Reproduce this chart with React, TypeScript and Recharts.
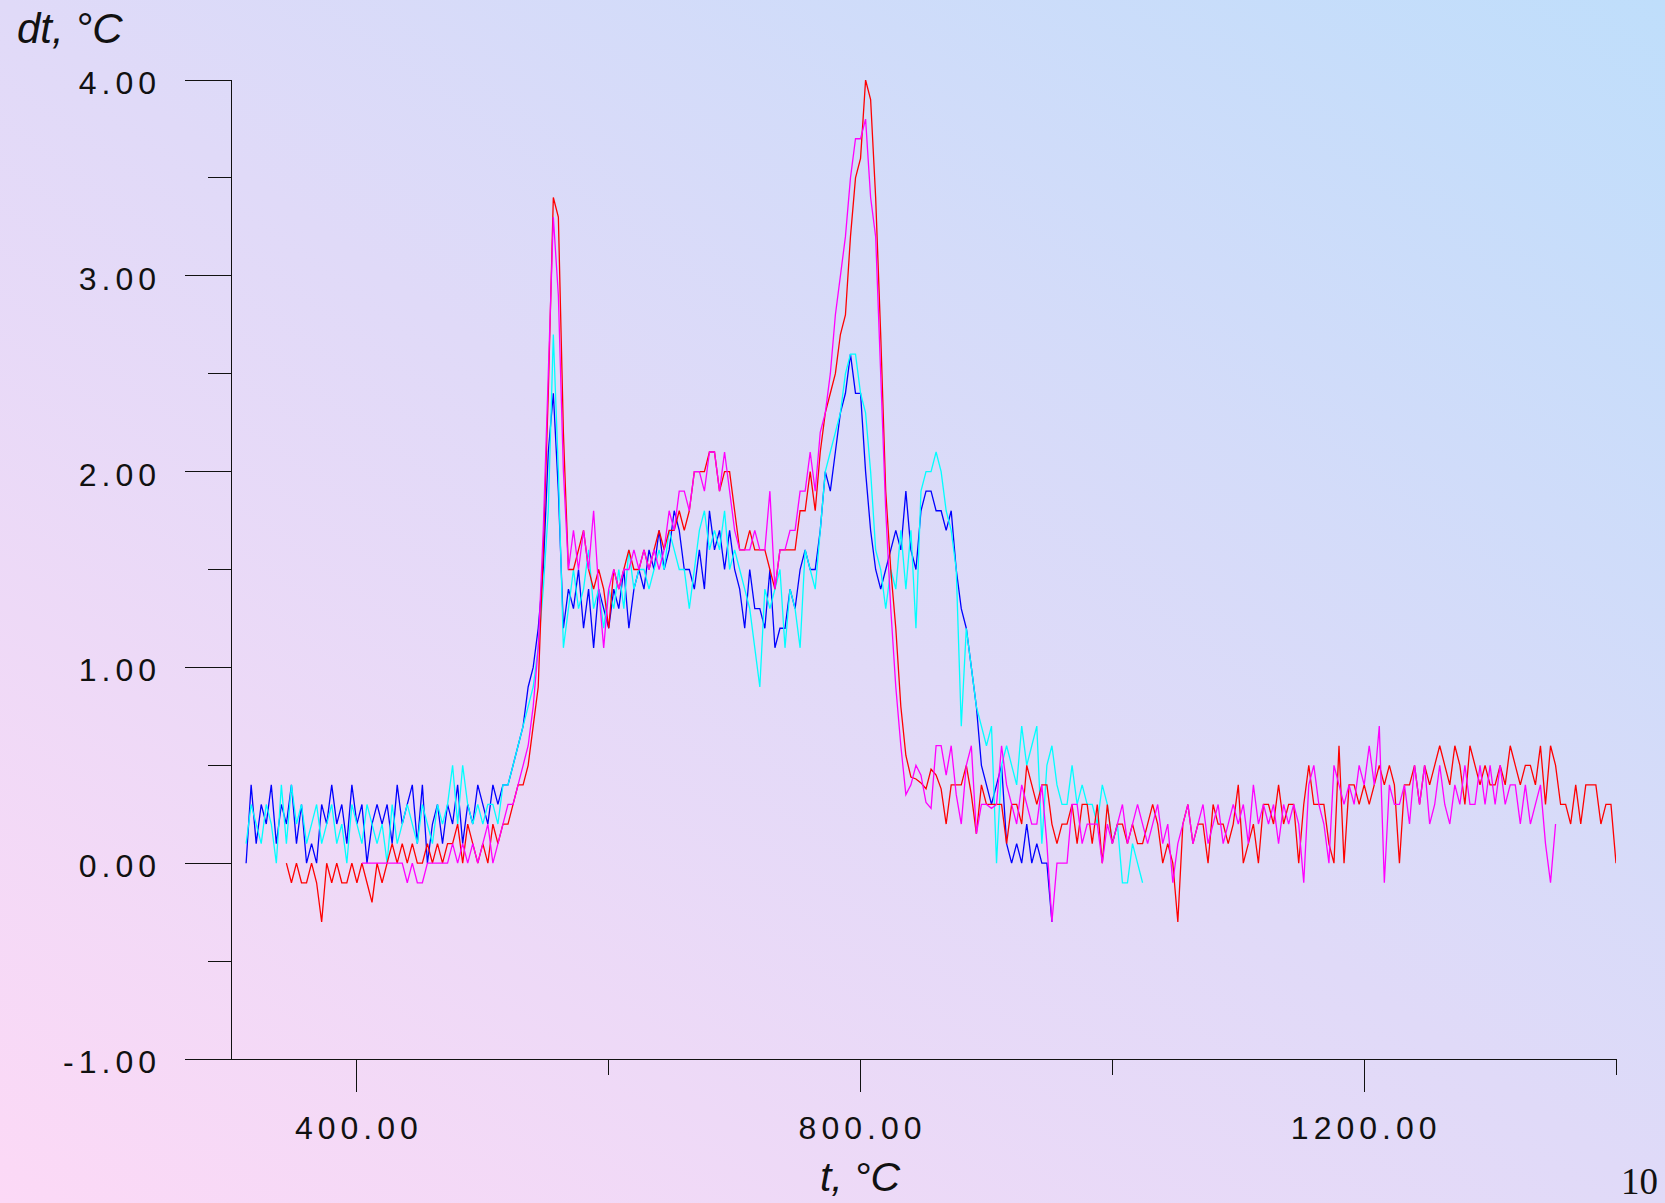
import { LineChart, Line, XAxis, YAxis } from 'recharts';

// readings on a 4 °C grid from 300 to 1400, null where a curve is not drawn
const _ = null;
const T_START = 300;
const T_STEP = 4;

const blue = [
  _, _, _, 0.0, 0.4, 0.1, 0.3, 0.2, 0.4, 0.1, // 300
  0.3, 0.2, 0.4, 0.1, 0.3, 0.0, 0.1, 0.0, 0.3, 0.2, // 340
  0.4, 0.2, 0.3, 0.1, 0.4, 0.2, 0.3, 0.0, 0.2, 0.3, // 380
  0.2, 0.3, 0.1, 0.4, 0.2, 0.3, 0.4, 0.1, 0.4, 0.0, // 420
  0.2, 0.3, 0.1, 0.3, 0.2, 0.4, 0.1, 0.3, 0.2, 0.4, // 460
  0.3, 0.2, 0.4, 0.3, 0.4, 0.4, 0.5, 0.6, 0.7, 0.9, // 500
  1.0, 1.2, 1.5, 2.1, 2.4, 1.9, 1.2, 1.4, 1.3, 1.5, // 540
  1.2, 1.4, 1.1, 1.4, 1.3, 1.2, 1.4, 1.3, 1.5, 1.2, // 580
  1.4, 1.5, 1.4, 1.6, 1.5, 1.7, 1.5, 1.6, 1.8, 1.7, // 620
  1.5, 1.5, 1.4, 1.6, 1.4, 1.8, 1.6, 1.7, 1.5, 1.7, // 660
  1.5, 1.4, 1.2, 1.5, 1.3, 1.3, 1.2, 1.5, 1.1, 1.2, // 700
  1.2, 1.4, 1.3, 1.5, 1.6, 1.5, 1.5, 1.7, 2.0, 1.9, // 740
  2.1, 2.3, 2.4, 2.6, 2.4, 2.4, 2.0, 1.7, 1.5, 1.4, // 780
  1.5, 1.6, 1.7, 1.6, 1.9, 1.6, 1.5, 1.8, 1.9, 1.9, // 820
  1.8, 1.8, 1.7, 1.8, 1.5, 1.3, 1.2, 1.0, 0.8, 0.5, // 860
  0.4, 0.3, 0.4, 0.5, 0.1, 0.0, 0.1, 0.0, 0.2, 0.0, // 900
  0.1, 0.0, 0.0, -0.3, _, _, _, _, _, _, // 940
  _, _, _, _, _, _, _, _, _, _, // 980
  _, _, _, _, _, _, _, _, _, _, // 1020
  _, _, _, _, _, _, _, _, _, _, // 1060
  _, _, _, _, _, _, _, _, _, _, // 1100
  _, _, _, _, _, _, _, _, _, _, // 1140
  _, _, _, _, _, _, _, _, _, _, // 1180
  _, _, _, _, _, _, _, _, _, _, // 1220
  _, _, _, _, _, _, _, _, _, _, // 1260
  _, _, _, _, _, _, _, _, _, _, // 1300
  _, _, _, _, _, _, _, _, _, _, // 1340
  _, _, _, _, _, _, // 1380
];

const cyan = [
  _, _, _, 0.1, 0.3, 0.2, 0.1, 0.3, 0.2, 0.0, // 300
  0.4, 0.1, 0.4, 0.2, 0.3, 0.1, 0.2, 0.3, 0.1, 0.2, // 340
  0.3, 0.1, 0.2, 0.0, 0.3, 0.2, 0.1, 0.3, 0.2, 0.1, // 380
  0.2, 0.0, 0.3, 0.1, 0.2, 0.3, 0.2, 0.1, 0.3, 0.2, // 420
  0.1, 0.3, 0.2, 0.3, 0.5, 0.2, 0.5, 0.3, 0.2, 0.3, // 460
  0.2, 0.3, 0.3, 0.2, 0.4, 0.4, 0.5, 0.6, 0.7, 0.8, // 500
  0.9, 1.1, 1.4, 1.8, 2.7, 2.0, 1.1, 1.3, 1.5, 1.3, // 540
  1.4, 1.6, 1.3, 1.4, 1.2, 1.4, 1.3, 1.5, 1.3, 1.6, // 580
  1.4, 1.5, 1.5, 1.4, 1.5, 1.6, 1.5, 1.7, 1.6, 1.5, // 620
  1.5, 1.3, 1.5, 1.7, 1.8, 1.6, 1.7, 1.6, 1.8, 1.5, // 660
  1.6, 1.5, 1.4, 1.3, 1.1, 0.9, 1.4, 1.3, 1.4, 1.5, // 700
  1.1, 1.4, 1.3, 1.1, 1.6, 1.5, 1.4, 1.7, 2.0, 2.1, // 740
  2.2, 2.3, 2.5, 2.6, 2.6, 2.4, 2.3, 2.0, 1.6, 1.5, // 780
  1.3, 1.5, 1.4, 1.7, 1.4, 1.7, 1.2, 1.9, 2.0, 2.0, // 820
  2.1, 2.0, 1.8, 1.7, 1.5, 0.7, 1.2, 1.0, 0.8, 0.7, // 860
  0.6, 0.7, 0.0, 0.5, 0.6, 0.5, 0.4, 0.7, 0.5, 0.6, // 900
  0.7, 0.1, 0.5, 0.6, 0.4, 0.3, 0.3, 0.5, 0.3, 0.4, // 940
  0.3, 0.3, 0.2, 0.4, 0.3, 0.1, 0.2, -0.1, -0.1, 0.1, // 980
  0.0, -0.1, _, _, _, _, _, _, _, _, // 1020
  _, _, _, _, _, _, _, _, _, _, // 1060
  _, _, _, _, _, _, _, _, _, _, // 1100
  _, _, _, _, _, _, _, _, _, _, // 1140
  _, _, _, _, _, _, _, _, _, _, // 1180
  _, _, _, _, _, _, _, _, _, _, // 1220
  _, _, _, _, _, _, _, _, _, _, // 1260
  _, _, _, _, _, _, _, _, _, _, // 1300
  _, _, _, _, _, _, _, _, _, _, // 1340
  _, _, _, _, _, _, // 1380
];

const red = [
  _, _, _, _, _, _, _, _, _, _, // 300
  _, 0.0, -0.1, 0.0, -0.1, -0.1, 0.0, -0.1, -0.3, 0.0, // 340
  -0.1, 0.0, -0.1, -0.1, 0.0, -0.1, 0.0, -0.1, -0.2, 0.0, // 380
  -0.1, 0.0, 0.1, 0.0, 0.1, 0.0, 0.1, 0.0, 0.0, 0.1, // 420
  0.0, 0.1, 0.0, 0.1, 0.1, 0.2, 0.0, 0.2, 0.1, 0.0, // 460
  0.1, 0.0, 0.2, 0.1, 0.2, 0.2, 0.3, 0.4, 0.4, 0.5, // 500
  0.7, 0.9, 1.6, 2.4, 3.4, 3.3, 2.2, 1.5, 1.5, 1.6, // 540
  1.7, 1.5, 1.4, 1.5, 1.4, 1.2, 1.5, 1.4, 1.5, 1.6, // 580
  1.5, 1.5, 1.6, 1.5, 1.6, 1.7, 1.6, 1.7, 1.7, 1.8, // 620
  1.7, 1.8, 2.0, 2.0, 2.0, 2.1, 2.1, 1.9, 2.0, 2.0, // 660
  1.8, 1.6, 1.6, 1.7, 1.6, 1.6, 1.6, 1.5, 1.4, 1.6, // 700
  1.6, 1.6, 1.6, 1.8, 1.8, 2.0, 1.8, 2.1, 2.3, 2.4, // 740
  2.5, 2.7, 2.8, 3.2, 3.5, 3.6, 4.0, 3.9, 3.4, 2.7, // 780
  1.9, 1.5, 1.2, 0.8, 0.55, 0.44, 0.43, 0.41, 0.38, 0.48, // 820
  0.45, 0.38, 0.2, 0.4, 0.4, 0.4, 0.5, 0.35, 0.15, 0.4, // 860
  0.3, 0.3, 0.3, 0.3, 0.1, 0.3, 0.3, 0.2, 0.5, 0.4, // 900
  0.3, 0.4, 0.4, 0.2, 0.1, 0.2, 0.2, 0.3, 0.1, 0.3, // 940
  0.3, 0.1, 0.3, 0.0, 0.3, 0.1, 0.2, 0.2, 0.1, 0.2, // 980
  0.1, 0.1, 0.2, 0.3, 0.2, 0.0, 0.1, 0.0, -0.3, 0.2, // 1020
  0.3, 0.1, 0.2, 0.2, 0.0, 0.3, 0.2, 0.2, 0.1, 0.2, // 1060
  0.4, 0.0, 0.1, 0.2, 0.0, 0.3, 0.3, 0.2, 0.4, 0.2, // 1100
  0.3, 0.3, 0.0, 0.3, 0.5, 0.3, 0.3, 0.3, 0.1, 0.0, // 1140
  0.6, 0.0, 0.4, 0.4, 0.3, 0.4, 0.3, 0.4, 0.5, 0.4, // 1180
  0.5, 0.4, 0.0, 0.4, 0.4, 0.5, 0.3, 0.5, 0.4, 0.5, // 1220
  0.6, 0.5, 0.4, 0.6, 0.5, 0.3, 0.6, 0.5, 0.4, 0.5, // 1260
  0.4, 0.4, 0.5, 0.4, 0.6, 0.5, 0.4, 0.5, 0.5, 0.4, // 1300
  0.6, 0.3, 0.6, 0.5, 0.3, 0.3, 0.2, 0.4, 0.2, 0.4, // 1340
  0.4, 0.4, 0.2, 0.3, 0.3, 0.0, // 1380
];

const magenta = [
  _, _, _, _, _, _, _, _, _, _, // 300
  _, _, _, _, _, _, _, _, _, _, // 340
  _, _, _, _, _, _, 0.0, 0.0, 0.0, 0.0, // 380
  0.0, 0.0, 0.0, 0.0, 0.0, -0.1, 0.0, -0.1, -0.1, 0.0, // 420
  0.0, 0.0, 0.0, 0.0, 0.1, 0.0, 0.1, 0.0, 0.1, 0.0, // 460
  0.1, 0.2, 0.0, 0.1, 0.2, 0.3, 0.3, 0.4, 0.5, 0.6, // 500
  0.8, 1.1, 1.7, 2.5, 3.3, 2.9, 2.0, 1.5, 1.7, 1.5, // 540
  1.7, 1.5, 1.8, 1.4, 1.1, 1.4, 1.5, 1.4, 1.5, 1.5, // 580
  1.6, 1.5, 1.6, 1.5, 1.6, 1.5, 1.6, 1.8, 1.7, 1.9, // 620
  1.9, 1.8, 2.0, 2.0, 1.9, 2.1, 2.1, 1.9, 2.1, 1.9, // 660
  1.7, 1.6, 1.6, 1.6, 1.7, 1.6, 1.6, 1.9, 1.4, 1.6, // 700
  1.6, 1.7, 1.7, 1.9, 1.9, 2.1, 1.9, 2.2, 2.3, 2.5, // 740
  2.8, 3.0, 3.2, 3.5, 3.7, 3.7, 3.8, 3.4, 3.2, 2.5, // 780
  1.8, 1.3, 0.9, 0.6, 0.35, 0.4, 0.5, 0.45, 0.31, 0.28, // 820
  0.6, 0.6, 0.45, 0.6, 0.35, 0.2, 0.5, 0.6, 0.15, 0.3, // 860
  0.3, 0.28, 0.3, 0.6, 0.4, 0.3, 0.2, 0.4, 0.3, 0.2, // 900
  0.2, 0.4, 0.1, -0.3, 0.0, 0.0, 0.0, 0.3, 0.3, 0.1, // 940
  0.2, 0.2, 0.2, 0.0, 0.2, 0.1, 0.2, 0.3, 0.1, 0.2, // 980
  0.3, 0.2, 0.1, 0.2, 0.3, 0.1, 0.2, -0.1, 0.1, 0.2, // 1020
  0.3, 0.1, 0.2, 0.3, 0.1, 0.2, 0.3, 0.1, 0.2, 0.3, // 1060
  0.2, 0.3, 0.1, 0.4, 0.2, 0.3, 0.2, 0.3, 0.1, 0.3, // 1100
  0.2, 0.3, 0.2, -0.1, 0.4, 0.5, 0.3, 0.2, 0.0, 0.5, // 1140
  0.4, 0.3, 0.4, 0.3, 0.5, 0.4, 0.6, 0.4, 0.7, -0.1, // 1180
  0.4, 0.3, 0.3, 0.4, 0.2, 0.5, 0.3, 0.5, 0.2, 0.3, // 1220
  0.5, 0.3, 0.2, 0.4, 0.3, 0.5, 0.3, 0.3, 0.5, 0.3, // 1260
  0.5, 0.3, 0.5, 0.3, 0.4, 0.4, 0.2, 0.4, 0.2, 0.3, // 1300
  0.4, 0.1, -0.1, 0.2, _, _, _, _, _, _, // 1340
  _, _, _, _, _, _, // 1380
];

const xTicks = [400, 600, 800, 1000, 1200, 1400];
const xLabelled = [400, 800, 1200];
const yTicks = [-1, -0.5, 0, 0.5, 1, 1.5, 2, 2.5, 3, 3.5, 4];

const data = blue.map((_v, i) => ({
  t: T_START + i * T_STEP,
  blue: blue[i],
  cyan: cyan[i],
  red: red[i],
  magenta: magenta[i],
}));

const font = '"Liberation Sans", Arial, sans-serif';
const axisColor = '#111';

function YTick(props: any) {
  const { x, y, payload } = props;
  const v = payload.value as number;
  const major = Number.isInteger(v);
  return (
    <g>
      <line x1={x - (major ? 46 : 23)} x2={x} y1={y} y2={y} stroke={axisColor} strokeWidth={1} shapeRendering="crispEdges" />
      {major && (
        <text x={x - 70} y={y + 14} textAnchor="end" fontFamily={font} fontSize={32} letterSpacing={5} fill="#111">
          {v.toFixed(2)}
        </text>
      )}
    </g>
  );
}

function XTick(props: any) {
  const { x, y, payload } = props;
  const v = payload.value as number;
  const major = xLabelled.includes(v);
  return (
    <g>
      <line x1={x} x2={x} y1={y} y2={y + (major ? 33 : 16)} stroke={axisColor} strokeWidth={1} shapeRendering="crispEdges" />
      {major && (
        <text x={x + 2} y={y + 80} textAnchor="middle" fontFamily={font} fontSize={32} letterSpacing={5} fill="#111">
          {v.toFixed(2)}
        </text>
      )}
    </g>
  );
}

export default function App() {
  return (
    <div
      style={{
        position: 'absolute',
        left: 0,
        top: 0,
        width: 1665,
        height: 1203,
        overflow: 'hidden',
        background: 'linear-gradient(to top right, #fcd9f6 0%, #e0daf8 50%, #bfdefb 100%)',
      }}
    >
      <LineChart width={1665} height={1203} data={data} margin={{ top: 80, right: 49, left: 185, bottom: 84 }}>
        <XAxis
          dataKey="t"
          type="number"
          domain={[300, 1400]}
          ticks={xTicks}
          interval={0}
          tickSize={0}
          tickMargin={0}
          height={60}
          axisLine={{ stroke: axisColor, shapeRendering: 'crispEdges' }}
          tickLine={false}
          tick={<XTick />}
          allowDataOverflow
        />
        <YAxis
          type="number"
          domain={[-1, 4]}
          ticks={yTicks}
          interval={0}
          tickSize={0}
          tickMargin={0}
          width={46}
          axisLine={{ stroke: axisColor, shapeRendering: 'crispEdges' }}
          tickLine={false}
          tick={<YTick />}
          allowDataOverflow
        />
        <Line type="linear" dataKey="blue" stroke="#0000ff" strokeWidth={1.3} dot={false} isAnimationActive={false} />
        <Line type="linear" dataKey="cyan" stroke="#00ffff" strokeWidth={1.3} dot={false} isAnimationActive={false} />
        <Line type="linear" dataKey="red" stroke="#ff0000" strokeWidth={1.3} dot={false} isAnimationActive={false} />
        <Line type="linear" dataKey="magenta" stroke="#ff00ff" strokeWidth={1.3} dot={false} isAnimationActive={false} />
      </LineChart>
      <svg width={1665} height={1203} style={{ position: 'absolute', left: 0, top: 0, pointerEvents: 'none' }}>
        <text x={17} y={43} fontFamily={font} fontStyle="italic" fontSize={42} fill="#111">
          dt, °C
        </text>
        <text x={860} y={1191} textAnchor="middle" fontFamily={font} fontStyle="italic" fontSize={41} fill="#111">
          t, °C
        </text>
        <text x={1658} y={1194} textAnchor="end" fontFamily='"Liberation Serif", "Times New Roman", serif' fontSize={37} fill="#111">
          10
        </text>
      </svg>
    </div>
  );
}
